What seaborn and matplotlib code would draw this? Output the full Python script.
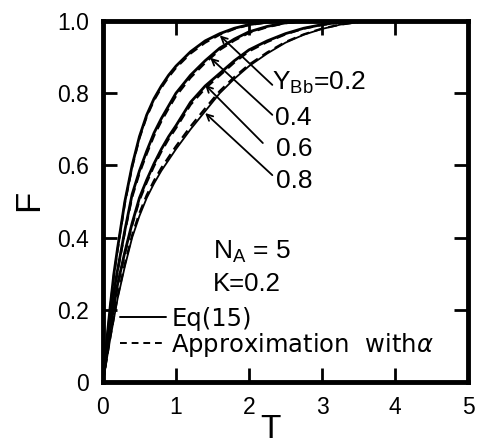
import matplotlib
matplotlib.use("Agg")
import matplotlib.pyplot as plt
from matplotlib.lines import Line2D
import seaborn as sns
import pandas as pd

# Dimensionless time T and fractional conversion F for each Y_Bb
T = [0, 0.05, 0.1, 0.15, 0.2, 0.3, 0.4, 0.5, 0.6, 0.7, 0.8, 0.9, 1.0, 1.2,
     1.4, 1.6, 1.8, 2.0, 2.25, 2.5, 2.75, 3.0, 3.25, 3.5, 3.75, 4.0]

ybb_levels = ["0.2", "0.4", "0.6", "0.8"]

# Eq(15)
F_eq_02 = [0, 0.11, 0.21, 0.30, 0.37, 0.50, 0.60, 0.68, 0.74, 0.785, 0.82, 0.85, 0.875, 0.915,
           0.945, 0.965, 0.98, 0.99, 0.997, 1.0, 1.0, 1.0, 1.0, 1.0, 1.0, 1.0]
F_eq_04 = [0, 0.09, 0.17, 0.25, 0.31, 0.42, 0.52, 0.585, 0.64, 0.69, 0.73, 0.765, 0.80, 0.85,
           0.89, 0.925, 0.95, 0.97, 0.985, 0.995, 1.0, 1.0, 1.0, 1.0, 1.0, 1.0]
F_eq_06 = [0, 0.075, 0.145, 0.21, 0.27, 0.36, 0.44, 0.51, 0.56, 0.605, 0.645, 0.68, 0.71, 0.775,
           0.82, 0.855, 0.89, 0.92, 0.945, 0.965, 0.98, 0.99, 0.997, 1.0, 1.0, 1.0]
F_eq_08 = [0, 0.06, 0.12, 0.175, 0.23, 0.32, 0.40, 0.46, 0.51, 0.55, 0.585, 0.615, 0.645, 0.70,
           0.75, 0.80, 0.84, 0.875, 0.91, 0.94, 0.962, 0.978, 0.99, 0.997, 1.0, 1.0]

# Approximation with alpha
F_ap_02 = [0, 0.105, 0.205, 0.295, 0.365, 0.495, 0.595, 0.675, 0.735, 0.78, 0.815, 0.845, 0.87, 0.91,
           0.94, 0.962, 0.978, 0.989, 0.996, 1.0, 1.0, 1.0, 1.0, 1.0, 1.0, 1.0]
F_ap_04 = [0, 0.087, 0.165, 0.245, 0.305, 0.415, 0.512, 0.578, 0.632, 0.682, 0.722, 0.758, 0.792, 0.843,
           0.884, 0.92, 0.946, 0.967, 0.983, 0.994, 0.999, 1.0, 1.0, 1.0, 1.0, 1.0]
F_ap_06 = [0, 0.073, 0.142, 0.206, 0.265, 0.355, 0.434, 0.503, 0.553, 0.598, 0.638, 0.673, 0.703, 0.768,
           0.813, 0.849, 0.885, 0.916, 0.942, 0.963, 0.979, 0.989, 0.996, 1.0, 1.0, 1.0]
F_ap_08 = [0, 0.062, 0.123, 0.18, 0.236, 0.327, 0.407, 0.468, 0.518, 0.558, 0.593, 0.623, 0.653, 0.708,
           0.758, 0.806, 0.845, 0.879, 0.913, 0.942, 0.963, 0.979, 0.99, 0.997, 1.0, 1.0]

F_eq = [F_eq_02, F_eq_04, F_eq_06, F_eq_08]
F_ap = [F_ap_02, F_ap_04, F_ap_06, F_ap_08]

# Arrow tips on the curves, arrow tails and label anchors (T, F)
arrow_tips = [(1.60, 0.960), (1.47, 0.898), (1.40, 0.823), (1.40, 0.745)]
arrow_tails = [(2.32, 0.823), (2.32, 0.740), (2.19, 0.662), (2.32, 0.573)]
label_pos = [(2.32, 0.828), (2.36, 0.731), (2.37, 0.645), (2.37, 0.557)]
curve_labels = [r"$\mathregular{Y_{Bb}}$=0.2", "0.4", "0.6", "0.8"]

x_ticks = [0, 1, 2, 3, 4, 5]
x_ticklabels = ["0", "1", "2", "3", "4", "5"]
y_ticks = [0, 0.2, 0.4, 0.6, 0.8, 1.0]
y_ticklabels = ["0", "0.2", "0.4", "0.6", "0.8", "1.0"]

sns.set_style("ticks")
plt.rcParams["font.family"] = ["Liberation Sans", "DejaVu Sans"]
for key in ("text.color", "axes.labelcolor", "xtick.color", "ytick.color",
            "axes.edgecolor"):
    plt.rcParams[key] = "black"

fig = plt.figure(figsize=(4.81, 4.47), dpi=100)
ax = fig.add_axes([0.214, 0.1454, 0.759, 0.8076])

rows = []
for lvl, fe, fa in zip(ybb_levels, F_eq, F_ap):
    for t, a, b in zip(T, fe, fa):
        rows.append({"T": t, "F": a, "Y_Bb": lvl, "method": "Eq(15)"})
        rows.append({"T": t, "F": b, "Y_Bb": lvl, "method": "Approx"})
df = pd.DataFrame(rows)

for lvl in ybb_levels:
    sub = df[(df.Y_Bb == lvl) & (df.method == "Eq(15)")]
    lw = 1.3 if lvl == "0.8" else 2.0
    sns.lineplot(data=sub, x="T", y="F", ax=ax, color="black", lw=lw,
                 estimator=None, legend=False)
    sub = df[(df.Y_Bb == lvl) & (df.method == "Approx")]
    sns.lineplot(data=sub, x="T", y="F", ax=ax, color="black", lw=1.6,
                 estimator=None, legend=False)
    ax.lines[-1].set_dashes([4, 2.5])

ax.set_xlim(0, 5)
ax.set_ylim(0, 1)
ax.set_xticks(x_ticks)
ax.set_xticklabels(x_ticklabels)
ax.set_yticks(y_ticks)
ax.set_yticklabels(y_ticklabels)
ax.tick_params(direction="in", length=10, width=2, top=True, right=True,
               labelsize=16.5, pad=10, colors="black")
for sp in ax.spines.values():
    sp.set_linewidth(3.5)
    sp.set_color("black")

ax.set_xlabel("T", fontsize=24, va="baseline")
ax.xaxis.set_label_coords(0.46, -0.155)
ax.set_ylabel("F", fontsize=25, va="center", ha="center")
ax.yaxis.set_label_coords(-0.203, 0.504)

for tip, tail, lp, txt in zip(arrow_tips, arrow_tails, label_pos, curve_labels):
    ax.annotate("", xy=tip, xytext=tail,
                arrowprops=dict(arrowstyle="->", color="black", lw=1.3,
                                shrinkA=0, shrinkB=0, mutation_scale=11))
    ax.text(lp[0], lp[1], txt, fontsize=19, ha="left", va="center")

ax.text(1.51, 0.36, r"$\mathregular{N_A}$ = 5", fontsize=19, ha="left", va="center")
ax.text(1.51, 0.271, "K=0.2", fontsize=18.5, ha="left", va="center")

handles = [Line2D([], [], color="black", lw=1.4),
           Line2D([], [], color="black", lw=1.4, dashes=[3.5, 2.5])]
leg = ax.legend(handles, ["Eq(15)", r"Approximation  with$\alpha$"],
                loc="center left", bbox_to_anchor=(0.047, 0.137), frameon=False,
                prop={"family": "DejaVu Sans", "size": 17.5},
                handlelength=1.9, handletextpad=0.2, labelspacing=0.0,
                borderpad=0, borderaxespad=0)

fig.savefig("out.png", dpi=100)
